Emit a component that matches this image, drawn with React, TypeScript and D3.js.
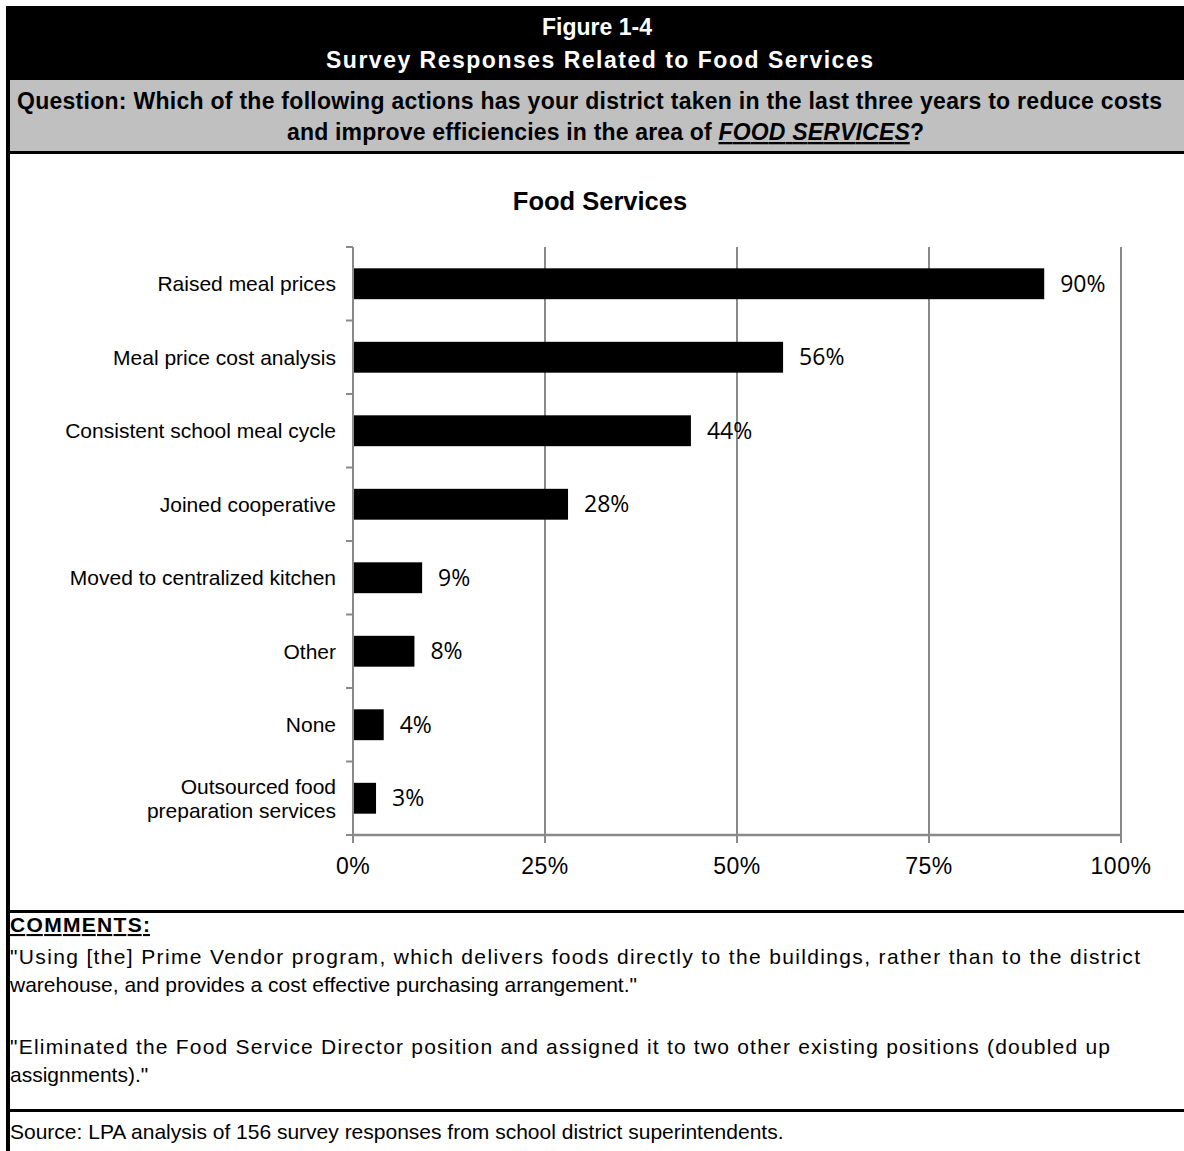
import React from 'react';
import * as d3 from 'd3';

const headerLines = ['Figure 1-4', 'Survey Responses Related to Food Services'];
const questionLine1 = 'Question: Which of the following actions has your district taken in the last three years to reduce costs';
const questionLine2Pre = 'and improve efficiencies in the area of ';
const questionLine2Em = 'FOOD SERVICES';
const questionLine2Post = '?';
const chartTitle = 'Food Services';
const categories = [
  'Raised meal prices',
  'Meal price cost analysis',
  'Consistent school meal cycle',
  'Joined cooperative',
  'Moved to centralized kitchen',
  'Other',
  'None',
  'Outsourced food preparation services',
];
const categoryLines = [
  ['Raised meal prices'],
  ['Meal price cost analysis'],
  ['Consistent school meal cycle'],
  ['Joined cooperative'],
  ['Moved to centralized kitchen'],
  ['Other'],
  ['None'],
  ['Outsourced food', 'preparation services'],
];
const values = [90, 56, 44, 28, 9, 8, 4, 3];
const xTicks = [0, 25, 50, 75, 100];
const commentsTitle = 'COMMENTS:';
const commentLines = [
  '"Using [the] Prime Vendor program, which delivers foods directly to the buildings, rather than to the district',
  'warehouse, and provides a cost effective purchasing arrangement."',
  '',
  '"Eliminated the Food Service Director position and assigned it to two other existing positions (doubled up',
  'assignments)."',
];
const sourceText = 'Source: LPA analysis of 156 survey responses from school district superintendents.';

const W = 1184;
const H = 1151;
const ARIAL = '"Liberation Sans", Arial, sans-serif';
const LABEL_FONT = '"Open Sans", "Noto Sans", sans-serif';
const GRID = '#8a8a8a';

// comment layout: baselines and justified widths (null = natural)
const commentBaselines = [964, 992, 0, 1054, 1082];
const commentWidths: (number | null)[] = [1130, null, null, 1100, null];

export default function App() {
  const x = d3.scaleLinear().domain([0, 100]).range([353, 1121]);
  const y = d3.scaleBand<string>().domain(categories).range([247, 835]).paddingInner(0.58).paddingOuter(0.29);
  const step = y.step();
  const boundaries = d3.range(categories.length + 1).map((i) => 247 + i * step);

  return (
    <svg width={W} height={H} style={{ position: 'absolute', left: 0, top: 0, display: 'block' }} fontFamily={ARIAL}>
      <rect x={0} y={0} width={W} height={H} fill="#fff" />
      {/* header */}
      <rect x={6} y={6} width={W - 6} height={74} fill="#000" />
      <rect x={10} y={80} width={W - 10} height={71} fill="#c0c0c0" />
      <rect x={6} y={151} width={W - 6} height={3} fill="#000" />
      <rect x={6} y={6} width={4} height={H - 6} fill="#000" />
      <text x={597} y={35} textAnchor="middle" fill="#fff" fontWeight="bold" fontSize={23}>{headerLines[0]}</text>
      <text x={326} y={68} fill="#fff" fontWeight="bold" fontSize={23} textLength={547} lengthAdjust="spacing">{headerLines[1]}</text>
      <text x={17} y={109} fill="#000" fontWeight="bold" fontSize={23} textLength={1145} lengthAdjust="spacing">{questionLine1}</text>
      <text x={287} y={140} fill="#000" fontWeight="bold" fontSize={23} textLength={637} lengthAdjust="spacing">
        {questionLine2Pre}
        <tspan fontStyle="italic" textDecoration="underline">{questionLine2Em}</tspan>
        {questionLine2Post}
      </text>

      {/* chart */}
      <text x={600} y={210} textAnchor="middle" fontWeight="bold" fontSize={25.5}>{chartTitle}</text>
      {xTicks.slice(1).map((t) => (
        <line key={'g' + t} x1={x(t)} x2={x(t)} y1={247} y2={835} stroke={GRID} strokeWidth={2} />
      ))}
      {categories.map((c, i) => (
        <rect key={c} x={x(0)} y={y(c)} width={x(values[i]) - x(0)} height={y.bandwidth()} fill="#000" />
      ))}
      <line x1={x(0)} x2={x(0)} y1={247} y2={836} stroke={GRID} strokeWidth={2} />
      {boundaries.map((b, i) => (
        <line key={'yt' + i} x1={x(0) - 7} x2={x(0)} y1={b} y2={b} stroke={GRID} strokeWidth={2} />
      ))}
      <line x1={x(0) - 1} x2={x(100) + 1} y1={835} y2={835} stroke={GRID} strokeWidth={2.5} />
      {xTicks.map((t) => (
        <line key={'xt' + t} x1={x(t)} x2={x(t)} y1={835} y2={843} stroke={GRID} strokeWidth={2} />
      ))}
      {xTicks.map((t) => (
        <text key={'xl' + t} x={x(t)} y={874} textAnchor="middle" fontSize={23} letterSpacing={0.5} fill="#000">{t + '%'}</text>
      ))}
      {categories.map((c, i) => {
        const lines = categoryLines[i];
        const cy = (y(c) as number) + y.bandwidth() / 2;
        const lh = 24;
        return (
          <text key={'cl' + c} x={336} textAnchor="end" fontSize={21} fill="#000">
            {lines.map((l, j) => (
              <tspan key={j} x={336} y={cy + 7.5 + (j - (lines.length - 1) / 2) * lh}>{l}</tspan>
            ))}
          </text>
        );
      })}
      {categories.map((c, i) => (
        <text key={'vl' + c} x={x(values[i]) + 16} y={(y(c) as number) + y.bandwidth() / 2 + 8} fontSize={23} fontFamily={LABEL_FONT} fill="#000">
          {values[i] + '%'}
        </text>
      ))}

      {/* comments */}
      <rect x={6} y={910} width={W - 6} height={3} fill="#000" />
      <text x={10} y={932} fontWeight="bold" fontSize={21} textDecoration="underline" textLength={140} lengthAdjust="spacing">{commentsTitle}</text>
      {commentLines.map((l, i) =>
        l ? (
          <text
            key={'cm' + i}
            x={10}
            y={commentBaselines[i]}
            fontSize={21}
            {...(commentWidths[i] ? { textLength: commentWidths[i] as number, lengthAdjust: 'spacing' } : {})}
          >
            {l}
          </text>
        ) : null
      )}
      <rect x={6} y={1109} width={W - 6} height={3} fill="#000" />
      <text x={10} y={1139} fontSize={21}>{sourceText}</text>
    </svg>
  );
}
